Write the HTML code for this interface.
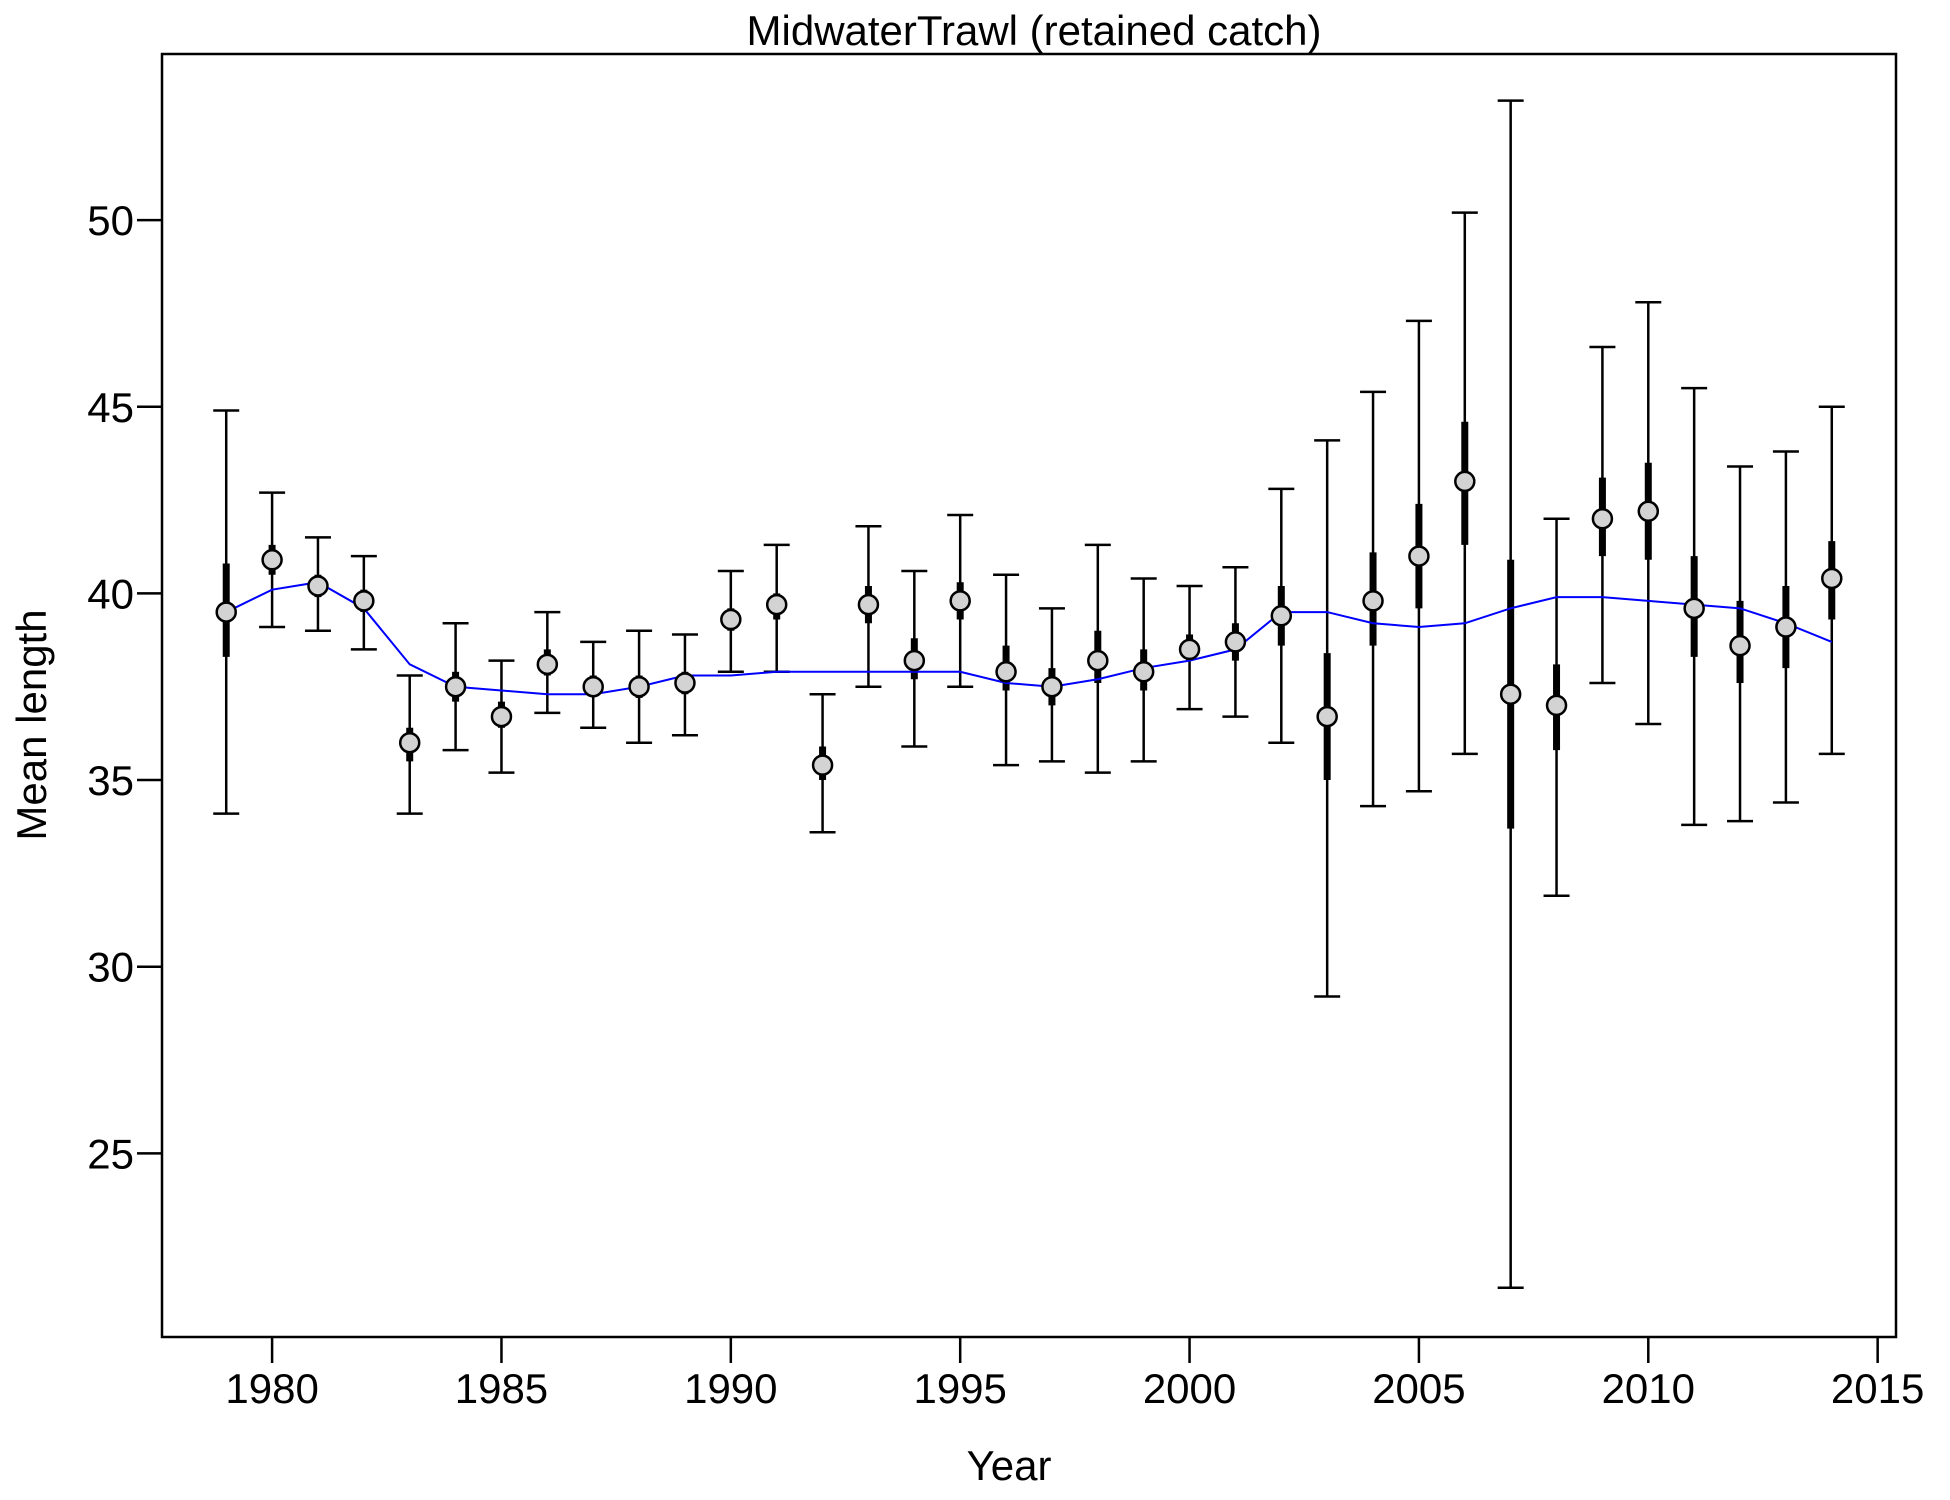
<!DOCTYPE html>
<html><head><meta charset="utf-8"><style>body{margin:0;background:#fff}svg{display:block}text{font-family:"Liberation Sans",Arial,sans-serif;fill:#000}</style></head>
<body>
<svg id="chart" width="1950" height="1500" viewBox="0 0 1950 1500" xmlns="http://www.w3.org/2000/svg">
<text x="1034" y="45" font-size="42" text-anchor="middle">MidwaterTrawl (retained catch)</text>
<rect x="162" y="54" width="1734" height="1283" fill="none" stroke="#000" stroke-width="2.5"/>
<g id="axes"></g>
<g id="marks"></g>
<text x="1009" y="1480" font-size="42" text-anchor="middle">Year</text>
<text transform="translate(46,725) rotate(-90)" font-size="42" text-anchor="middle">Mean length</text>
</svg>
<script>
const years=[1979,1980,1981,1982,1983,1984,1985,1986,1987,1988,1989,1990,1991,1992,1993,1994,1995,1996,1997,1998,1999,2000,2001,2002,2003,2004,2005,2006,2007,2008,2009,2010,2011,2012,2013,2014];
const obs=[39.5,40.9,40.2,39.8,36.0,37.5,36.7,38.1,37.5,37.5,37.6,39.3,39.7,35.4,39.7,38.2,39.8,37.9,37.5,38.2,37.9,38.5,38.7,39.4,36.7,39.8,41.0,43.0,37.3,37.0,42.0,42.2,39.6,38.6,39.1,40.4];
const thinLo=[34.1,39.1,39.0,38.5,34.1,35.8,35.2,36.8,36.4,36.0,36.2,37.9,37.9,33.6,37.5,35.9,37.5,35.4,35.5,35.2,35.5,36.9,36.7,36.0,29.2,34.3,34.7,35.7,21.4,31.9,37.6,36.5,33.8,33.9,34.4,35.7];
const thinHi=[44.9,42.7,41.5,41.0,37.8,39.2,38.2,39.5,38.7,39.0,38.9,40.6,41.3,37.3,41.8,40.6,42.1,40.5,39.6,41.3,40.4,40.2,40.7,42.8,44.1,45.4,47.3,50.2,53.2,42.0,46.6,47.8,45.5,43.4,43.8,45.0];
const thickLo=[38.3,40.5,39.9,39.5,35.5,37.1,36.4,37.8,37.3,37.2,37.3,39.0,39.3,35.0,39.2,37.7,39.3,37.4,37.0,37.6,37.4,38.2,38.2,38.6,35.0,38.6,39.6,41.3,33.7,35.8,41.0,40.9,38.3,37.6,38.0,39.3];
const thickHi=[40.8,41.3,40.5,40.1,36.4,37.9,37.1,38.5,37.8,37.8,37.9,39.6,40.0,35.9,40.2,38.8,40.3,38.6,38.0,39.0,38.5,38.9,39.2,40.2,38.4,41.1,42.4,44.6,40.9,38.1,43.1,43.5,41.0,39.8,40.2,41.4];
const expected=[39.5,40.1,40.3,39.6,38.1,37.5,37.4,37.3,37.3,37.5,37.8,37.8,37.9,37.9,37.9,37.9,37.9,37.6,37.5,37.7,38.0,38.2,38.5,39.5,39.5,39.2,39.1,39.2,39.6,39.9,39.9,39.8,39.7,39.6,39.2,38.7];
const xTicks=[1980,1985,1990,1995,2000,2005,2010,2015];
const yTicks=[25,30,35,40,45,50];
const L=162,R=1896,T=54,B=1337,X0=1977.6,X1=2015.4,Y0=20.08,Y1=54.45;
const sx=v=>L+(v-X0)/(X1-X0)*(R-L);
const sy=v=>B-(v-Y0)/(Y1-Y0)*(B-T);
const NS='http://www.w3.org/2000/svg';
function mk(tag,attrs,parent){const e=document.createElementNS(NS,tag);for(const k in attrs)e.setAttribute(k,attrs[k]);parent.appendChild(e);return e;}
const ax=document.getElementById('axes'),mg=document.getElementById('marks');
xTicks.forEach(t=>{
 const l=mk('line',{x1:sx(t),x2:sx(t),y1:B,y2:B+26,stroke:'#000','stroke-width':2.5},ax);
 
 
 const tx=mk('text',{x:sx(t),y:B+66,'font-size':42,'text-anchor':'middle'},ax);tx.textContent=t;
 
 
});
yTicks.forEach(t=>{
 const l=mk('line',{x1:L-25,x2:L,y1:sy(t),y2:sy(t),stroke:'#000','stroke-width':2.5},ax);
 
 
 const tx=mk('text',{x:L-28,y:sy(t)+15,'font-size':42,'text-anchor':'end'},ax);tx.textContent=t;
 
 
});
years.forEach((yr,i)=>{
 const x=sx(yr);
 const g=mk('g',{},mg);
 
 
 mk('line',{x1:x,x2:x,y1:sy(thinLo[i]),y2:sy(thinHi[i]),stroke:'#000','stroke-width':2.5},g);
 mk('line',{x1:x-13,x2:x+13,y1:sy(thinLo[i]),y2:sy(thinLo[i]),stroke:'#000','stroke-width':2.5},g);
 mk('line',{x1:x-13,x2:x+13,y1:sy(thinHi[i]),y2:sy(thinHi[i]),stroke:'#000','stroke-width':2.5},g);
 mk('line',{x1:x,x2:x,y1:sy(thickLo[i]),y2:sy(thickHi[i]),stroke:'#000','stroke-width':7},g);
});
const pts=years.map((yr,i)=>sx(yr)+','+sy(expected[i])).join(' ');
const pl=mk('polyline',{points:pts,fill:'none',stroke:'#0000ff','stroke-width':2},mg);


years.forEach((yr,i)=>{
 const c=mk('circle',{cx:sx(yr),cy:sy(obs[i]),r:9.5,fill:'#d3d3d3',stroke:'#000','stroke-width':2.5},mg);
 
 
});
</script>
</body></html>
